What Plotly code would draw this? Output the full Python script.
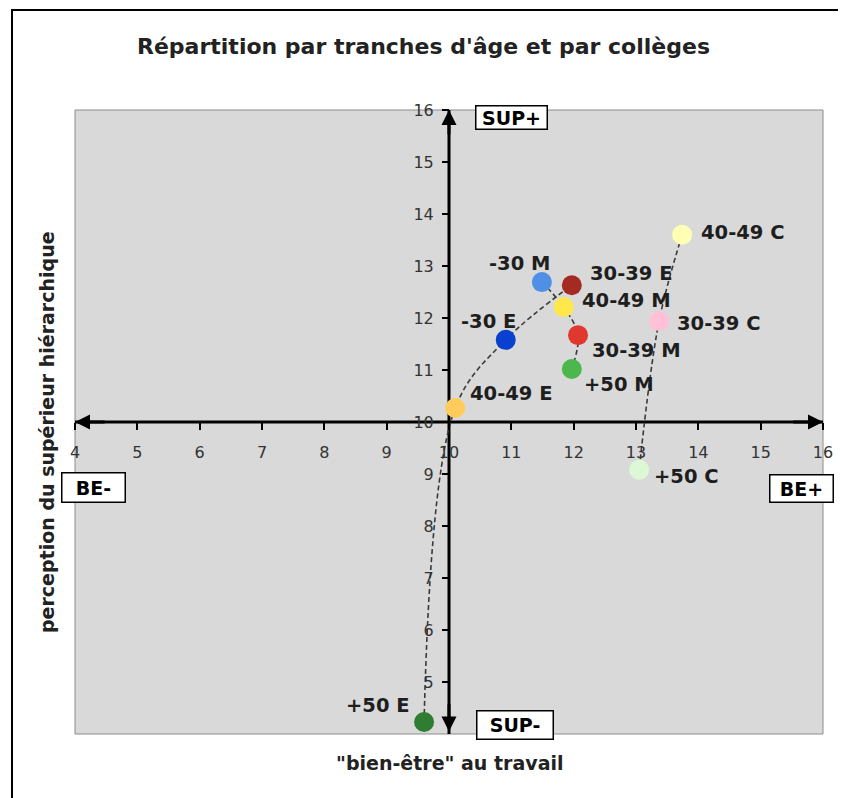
import plotly.graph_objects as go

# ---- data ----
college_E_labels = ["+50 E", "40-49 E", "-30 E", "30-39 E"]
college_E_x = [9.60, 10.10, 10.91, 11.97]
college_E_y = [4.23, 10.27, 11.58, 12.63]

college_M_labels = ["-30 M", "40-49 M", "30-39 M", "+50 M"]
college_M_x = [11.49, 11.84, 12.07, 11.97]
college_M_y = [12.69, 12.21, 11.67, 11.02]

college_C_labels = ["40-49 C", "30-39 C", "+50 C"]
college_C_x = [13.74, 13.37, 13.05]
college_C_y = [13.60, 11.94, 9.08]

x_ticks = list(range(4, 17))
y_ticks = list(range(5, 17))

# ---- styles ----
point_colors = {
    "+50 E": "#2E7D32", "40-49 E": "#FFCB5A", "-30 E": "#0A40D0", "30-39 E": "#A52A22",
    "-30 M": "#4F8FE6", "40-49 M": "#FFE74C", "30-39 M": "#E0382E", "+50 M": "#4CB84C",
    "40-49 C": "#FFFFB3", "30-39 C": "#FFC0D8", "+50 C": "#DDF8D5",
}
# (xanchor, xshift px, yshift px)
label_pos = {
    "40-49 C": ("left", 17, 2), "-30 M": ("right", 10, 19), "30-39 E": ("left", 16, 12),
    "40-49 M": ("left", 16, 7), "30-39 C": ("left", 16, -2), "-30 E": ("right", 12, 18),
    "30-39 M": ("left", 12, -15), "+50 M": ("left", 10, -16), "40-49 E": ("left", 13, 14),
    "+50 C": ("left", 13, -7), "+50 E": ("right", -12, 17),
}

# plot-area geometry in screen pixels
PL, PR, PT, PB = 75, 823, 110, 734


def px(xs):
    return (xs - PL) / (PR - PL)


def py(ys):
    return (PB - ys) / (PB - PT)


fig = go.Figure()

series = [(college_E_labels, college_E_x, college_E_y),
          (college_M_labels, college_M_x, college_M_y),
          (college_C_labels, college_C_x, college_C_y)]

for labs, xs, ys in series:
    fig.add_trace(go.Scatter(x=xs, y=ys, mode="lines",
                             line=dict(color="#3a3a3a", width=1.6, dash="5px,3px", shape="spline"),
                             hoverinfo="skip"))

all_labels, all_x, all_y = [], [], []
for labs, xs, ys in series:
    all_labels += labs
    all_x += xs
    all_y += ys

fig.add_trace(go.Scatter(x=all_x, y=all_y, mode="markers", text=all_labels,
                         marker=dict(size=20, color=[point_colors[l] for l in all_labels],
                                     line=dict(width=0))))

annotations = []
for lab, xv, yv in zip(all_labels, all_x, all_y):
    xa, xs_, ys_ = label_pos[lab]
    annotations.append(dict(x=xv, y=yv, xref="x", yref="y", text="<b>%s</b>" % lab,
                            showarrow=False, xanchor=xa, yanchor="middle",
                            xshift=xs_, yshift=ys_,
                            font=dict(family="DejaVu Sans", size=19.5, color="#1e1e1e")))

# axis arrowheads
arrow_style = dict(showarrow=True, arrowhead=2, arrowsize=1, arrowwidth=3,
                   arrowcolor="black", text="", xref="x", yref="y", axref="x", ayref="y")
annotations += [
    dict(x=16, y=10, ax=15.5, ay=10, **arrow_style),
    dict(x=4, y=10, ax=4.5, ay=10, **arrow_style),
    dict(x=10, y=16, ax=10, ay=15.5, **arrow_style),
    dict(x=10, y=4.05, ax=10, ay=4.6, **arrow_style),
]

# boxed quadrant labels
box_style = dict(showarrow=False, xref="x", yref="y", bgcolor="white", bordercolor="black",
                 borderwidth=1.5, borderpad=2, xanchor="center", yanchor="middle",
                 align="center", valign="middle",
                 font=dict(family="DejaVu Sans", size=19, color="black"))
annotations += [
    dict(x=11.0, y=15.85, text="<b>SUP+</b>", width=66, height=18, **box_style),
    dict(x=11.06, y=4.17, text="<b>SUP-</b>", width=71, height=23, **box_style),
    dict(x=4.30, y=8.75, text="<b>BE-</b>", width=58, height=24, **box_style),
    dict(x=15.65, y=8.73, text="<b>BE+</b>", width=58, height=22, **box_style),
]

# titles
annotations += [
    dict(x=px(423), y=py(47), xref="paper", yref="paper", xanchor="center", yanchor="middle",
         text="<b>Répartition par tranches d'âge et par collèges</b>", showarrow=False,
         font=dict(family="DejaVu Sans", size=22, color="#222")),
    dict(x=px(450), y=py(763), xref="paper", yref="paper", xanchor="center", yanchor="middle",
         text="<b>\"bien-être\" au travail</b>", showarrow=False,
         font=dict(family="DejaVu Sans", size=19, color="#222")),
    dict(x=px(47), y=py(432), xref="paper", yref="paper", xanchor="center", yanchor="middle",
         text="<b>perception du supérieur hiérarchique</b>", showarrow=False, textangle=-90,
         font=dict(family="DejaVu Sans", size=19, color="#222")),
]

shapes = [
    # outer frame
    dict(type="rect", xref="paper", yref="paper",
         x0=px(12), x1=px(843), y0=py(815), y1=py(10),
         line=dict(color="black", width=2)),
    # plot area border
    dict(type="rect", xref="paper", yref="paper", x0=0, x1=1, y0=0, y1=1,
         line=dict(color="#8c8c8c", width=1), layer="below"),
    # crossing axes
    dict(type="line", xref="x", yref="y", x0=4, x1=16, y0=10, y1=10,
         line=dict(color="black", width=3), layer="below"),
    dict(type="line", xref="x", yref="y", x0=10, x1=10, y0=4, y1=16,
         line=dict(color="black", width=3), layer="below"),
]

OFF = 8  # default page body margin
fig.update_layout(
    width=846 - OFF, height=798 - OFF,
    margin=dict(l=PL - OFF, r=846 - PR, t=PT - OFF, b=798 - PB),
    paper_bgcolor="white", plot_bgcolor="#D9D9D9",
    showlegend=False,
    annotations=annotations, shapes=shapes,
    xaxis=dict(range=[4, 16], tickvals=x_ticks, anchor="free", position=0.5,
               showgrid=False, zeroline=False, showline=False,
               ticks="outside", ticklen=7, tickwidth=1.5, tickcolor="black",
               ticklabelstandoff=9,
               tickfont=dict(family="DejaVu Sans", size=16, color="#333")),
    yaxis=dict(range=[4, 16], tickvals=y_ticks, anchor="free", position=0.5,
               showgrid=False, zeroline=False, showline=False,
               ticks="outside", ticklen=7, tickwidth=1.5, tickcolor="black",
               ticklabelstandoff=5,
               tickfont=dict(family="DejaVu Sans", size=16, color="#333")),
)

fig.write_html("out.html")
